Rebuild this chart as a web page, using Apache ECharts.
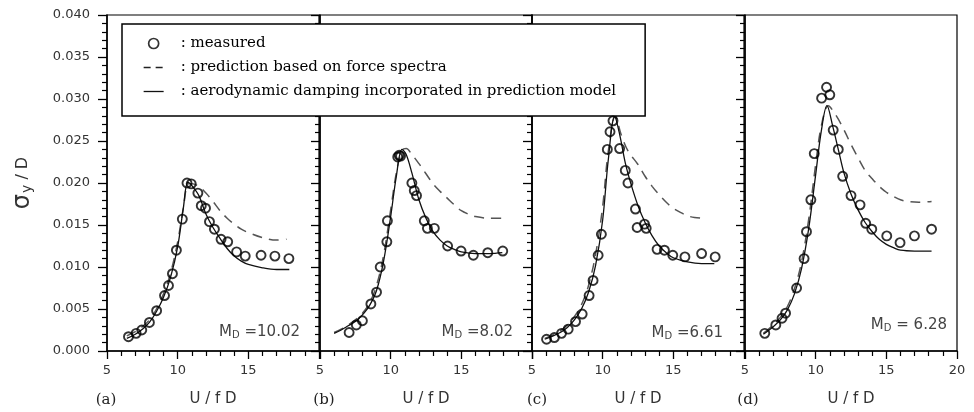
<!DOCTYPE html>
<html>
<head>
<meta charset="utf-8">
<title>Cross-wind response vs reduced velocity</title>
<script src="https://cdn.jsdelivr.net/npm/echarts@6/dist/echarts.min.js"></script>
<style>
  html, body { margin: 0; padding: 0; background: #fff; }
  #chart { width: 974px; height: 412px; }
</style>
</head>
<body>
<div id="chart"></div>
<script>
// ---- Panel (a), M_D = 10.02 ----
const aMeasU = [6.52, 7.06, 7.46, 8.00, 8.51, 9.07, 9.35, 9.63, 9.91, 10.33, 10.66, 10.96, 11.43, 11.67, 11.97, 12.25, 12.60, 13.07, 13.54, 14.17, 14.78, 15.90, 16.88, 17.87];
const aMeasS = [0.0017, 0.0021, 0.0025, 0.0034, 0.0048, 0.0066, 0.0078, 0.0092, 0.0120, 0.0157, 0.0200, 0.0199, 0.0188, 0.0173, 0.0170, 0.0154, 0.0145, 0.0133, 0.0130, 0.0118, 0.0113, 0.0114, 0.0113, 0.0110];
const aForceU = [6.4, 7.0, 7.5, 8.0, 8.5, 9.0, 9.5, 10.0, 10.4, 10.75, 11.0, 11.5, 12.0, 12.5, 13.0, 13.5, 14.0, 14.5, 15.0, 16.0, 17.0, 17.7];
const aForceS = [0.0018, 0.0023, 0.0029, 0.0037, 0.0050, 0.0068, 0.0093, 0.0130, 0.0170, 0.0199, 0.0199, 0.0196, 0.0188, 0.0178, 0.0167, 0.0158, 0.0151, 0.0145, 0.0141, 0.0135, 0.0132, 0.0133];
const aDampU = [6.4, 7.0, 7.5, 8.0, 8.5, 9.0, 9.5, 10.0, 10.4, 10.72, 11.0, 11.5, 12.0, 12.5, 13.0, 13.5, 14.0, 14.5, 15.0, 16.0, 17.0, 17.9];
const aDampS = [0.0015, 0.0020, 0.0026, 0.0034, 0.0047, 0.0064, 0.0088, 0.0124, 0.0170, 0.0201, 0.0197, 0.0185, 0.0163, 0.0147, 0.0134, 0.0122, 0.0113, 0.0107, 0.0103, 0.0099, 0.0097, 0.0097];

// ---- Panel (b), M_D = 8.02 ----
const bMeasU = [7.06, 7.57, 8.00, 8.60, 9.00, 9.26, 9.73, 9.77, 10.50, 10.60, 10.70, 11.50, 11.67, 11.83, 12.38, 12.60, 13.09, 14.03, 14.98, 15.85, 16.87, 17.93];
const bMeasS = [0.0022, 0.0031, 0.0036, 0.0056, 0.0070, 0.0100, 0.0130, 0.0155, 0.0231, 0.0233, 0.0232, 0.0200, 0.0191, 0.0185, 0.0155, 0.0146, 0.0146, 0.0125, 0.0119, 0.0114, 0.0117, 0.0119];
const bForceU = [6.0, 6.5, 7.0, 7.5, 8.0, 8.5, 9.0, 9.5, 10.0, 10.4, 10.8, 11.1, 11.5, 12.0, 12.5, 13.0, 13.5, 14.0, 14.5, 15.0, 15.5, 16.0, 17.0, 17.9];
const bForceS = [0.0022, 0.0026, 0.0031, 0.0037, 0.0045, 0.0057, 0.0078, 0.0114, 0.0168, 0.0212, 0.0239, 0.0241, 0.0234, 0.0223, 0.0211, 0.0199, 0.0190, 0.0182, 0.0174, 0.0167, 0.0163, 0.0160, 0.0158, 0.0158];
const bDampU = [6.0, 6.5, 7.0, 7.5, 8.0, 8.5, 9.0, 9.5, 10.0, 10.4, 10.8, 11.1, 11.5, 12.0, 12.5, 13.0, 13.5, 14.0, 14.5, 15.0, 16.0, 17.0, 17.9];
const bDampS = [0.0021, 0.0025, 0.0030, 0.0035, 0.0043, 0.0054, 0.0072, 0.0107, 0.0160, 0.0208, 0.0240, 0.0234, 0.0212, 0.0180, 0.0158, 0.0142, 0.0132, 0.0125, 0.0121, 0.0118, 0.0116, 0.0116, 0.0117];

// ---- Panel (c), M_D = 6.61 ----
const cMeasU = [6.03, 6.58, 7.09, 7.56, 8.08, 8.55, 9.04, 9.32, 9.68, 9.91, 10.33, 10.52, 10.73, 11.20, 11.60, 11.79, 12.32, 12.44, 12.96, 13.08, 13.85, 14.37, 14.96, 15.82, 17.00, 17.96];
const cMeasS = [0.0014, 0.0016, 0.0021, 0.0026, 0.0035, 0.0044, 0.0066, 0.0084, 0.0114, 0.0139, 0.0240, 0.0261, 0.0274, 0.0241, 0.0215, 0.0200, 0.0169, 0.0147, 0.0151, 0.0146, 0.0121, 0.0120, 0.0114, 0.0112, 0.0116, 0.0112];
const cForceU = [5.9, 6.5, 7.0, 7.5, 8.0, 8.5, 9.0, 9.5, 10.0, 10.4, 10.9, 11.3, 11.8, 12.5, 13.0, 13.5, 14.0, 14.5, 15.0, 15.5, 16.0, 16.5, 17.3];
const cForceS = [0.0015, 0.0019, 0.0024, 0.0031, 0.0041, 0.0055, 0.0078, 0.0115, 0.0172, 0.0238, 0.0280, 0.0258, 0.0238, 0.0222, 0.0208, 0.0196, 0.0186, 0.0177, 0.0170, 0.0165, 0.0161, 0.0159, 0.0158];
const cDampU = [5.9, 6.5, 7.0, 7.5, 8.0, 8.5, 9.0, 9.5, 10.0, 10.4, 10.85, 11.2, 11.6, 12.0, 12.5, 13.0, 13.5, 14.0, 14.5, 15.0, 16.0, 17.0, 17.9];
const cDampS = [0.0014, 0.0018, 0.0022, 0.0028, 0.0037, 0.0050, 0.0070, 0.0102, 0.0156, 0.0228, 0.0279, 0.0258, 0.0224, 0.0199, 0.0173, 0.0153, 0.0137, 0.0125, 0.0117, 0.0111, 0.0106, 0.0104, 0.0104];

// ---- Panel (d), M_D = 6.28 ----
const dMeasU = [6.40, 7.18, 7.62, 7.87, 8.65, 9.18, 9.35, 9.66, 9.90, 10.42, 10.77, 11.00, 11.24, 11.60, 11.91, 12.50, 13.14, 13.54, 13.97, 15.03, 15.97, 16.99, 18.20];
const dMeasS = [0.0021, 0.0031, 0.0039, 0.0045, 0.0075, 0.0110, 0.0142, 0.0180, 0.0235, 0.0301, 0.0314, 0.0305, 0.0263, 0.0240, 0.0208, 0.0185, 0.0174, 0.0152, 0.0145, 0.0137, 0.0129, 0.0137, 0.0145];
const dForceU = [6.3, 7.0, 7.5, 8.0, 8.5, 9.0, 9.5, 10.0, 10.4, 10.9, 11.3, 11.8, 12.5, 13.0, 13.5, 14.0, 14.5, 15.0, 15.5, 16.0, 16.5, 17.3, 18.2];
const dForceS = [0.0021, 0.0031, 0.0040, 0.0053, 0.0074, 0.0106, 0.0156, 0.0222, 0.0268, 0.0292, 0.0284, 0.0270, 0.0246, 0.0230, 0.0215, 0.0205, 0.0196, 0.0189, 0.0184, 0.0180, 0.0178, 0.0177, 0.0178];
const dDampU = [6.3, 7.0, 7.5, 8.0, 8.5, 9.0, 9.5, 10.0, 10.4, 10.8, 11.2, 11.6, 12.0, 12.5, 13.0, 13.5, 14.0, 14.5, 15.0, 15.5, 16.0, 17.0, 18.2];
const dDampS = [0.0020, 0.0029, 0.0037, 0.0049, 0.0068, 0.0098, 0.0145, 0.0210, 0.0262, 0.0292, 0.0268, 0.0240, 0.0212, 0.0187, 0.0168, 0.0153, 0.0142, 0.0133, 0.0127, 0.0123, 0.0120, 0.0119, 0.0119];

// Axis ticks and labels
const xTicks = [5, 10, 15, 20];
const yTicks = [0, 0.005, 0.010, 0.015, 0.020, 0.025, 0.030, 0.035, 0.040];
const panelTags = ['(a)', '(b)', '(c)', '(d)'];
const massLabels = ['=10.02', '=8.02', '=6.61', '= 6.28'];
const seriesNames = [
  'measured',
  'prediction based on force spectra',
  'aerodynamic damping incorporated in prediction model'
];

const panels = [
  [aMeasU, aMeasS, aForceU, aForceS, aDampU, aDampS],
  [bMeasU, bMeasS, bForceU, bForceS, bDampU, bDampS],
  [cMeasU, cMeasS, cForceU, cForceS, cDampU, cDampS],
  [dMeasU, dMeasS, dForceU, dForceS, dDampU, dDampS]
];

const zip = (xs, ys) => xs.map((x, i) => [x, ys[i]]);

// Layout of the four side-by-side panels (pixels)
const panelLeft = [107, 320, 532, 745];
const panelWidth = 212;
const plotTop = 15;
const plotHeight = 336;

const SANS = 'DejaVu Sans';
const SERIF = 'DejaVu Serif';
const DASH_COLOR = '#555';
const SOLID_COLOR = '#111';
const HIDDEN = 'rgba(0,0,0,0)';

const grids = panelLeft.map(l => ({
  left: l, top: plotTop, width: panelWidth, height: plotHeight,
  show: true, borderColor: '#000', borderWidth: 1.2, backgroundColor: 'transparent'
}));

const xAxes = panelLeft.map((l, i) => ({
  type: 'value', gridIndex: i,
  min: xTicks[0], max: xTicks[xTicks.length - 1], interval: 5,
  name: 'U / f D', nameLocation: 'middle', nameGap: 41,
  nameTextStyle: { fontFamily: SANS, fontSize: 15, color: '#333' },
  axisLine: { show: true, lineStyle: { color: '#000', width: 1.5 } },
  axisTick: { show: true, length: 8, lineStyle: { color: '#000', width: 1.3 } },
  minorTick: { show: true, splitNumber: 5, length: 5, lineStyle: { color: '#000', width: 1.2 } },
  splitLine: { show: false },
  minorSplitLine: { show: false },
  axisLabel: {
    fontFamily: SANS, fontSize: 13, color: '#333', margin: 13,
    showMaxLabel: i === 3,
    formatter: v => String(v)
  }
}));

const yAxes = panelLeft.map((l, i) => ({
  type: 'value', gridIndex: i,
  min: yTicks[0], max: yTicks[yTicks.length - 1], interval: 0.005,
  name: i === 0 ? '{s|σ}{sub|y}{n| / D}' : '',
  nameLocation: 'middle', nameRotate: 90, nameGap: 72,
  nameTextStyle: {
    color: '#333',
    rich: {
      s: { fontFamily: SANS, fontSize: 24, color: '#333' },
      sub: { fontFamily: SANS, fontSize: 14, color: '#333', padding: [8, 0, 0, 1] },
      n: { fontFamily: SANS, fontSize: 16, color: '#333' }
    }
  },
  axisLine: { show: true, lineStyle: { color: '#000', width: 1.5 } },
  axisTick: { show: true, length: 9, lineStyle: { color: '#000', width: 1.3 } },
  minorTick: { show: true, splitNumber: 5, length: 5, lineStyle: { color: '#000', width: 1.2 } },
  splitLine: { show: false },
  minorSplitLine: { show: false },
  axisLabel: {
    show: i === 0, fontFamily: SANS, fontSize: 13, color: '#333', margin: 17,
    formatter: v => v.toFixed(3)
  }
}));

const series = [];
panels.forEach((p, i) => {
  series.push({
    name: seriesNames[1], type: 'line', xAxisIndex: i, yAxisIndex: i,
    data: zip(p[2], p[3]), smooth: 0.35, symbol: 'none', showSymbol: false,
    color: DASH_COLOR,
    lineStyle: { color: DASH_COLOR, width: 1.5, type: [10, 7] }, z: 3
  });
  series.push({
    name: seriesNames[2], type: 'line', xAxisIndex: i, yAxisIndex: i,
    data: zip(p[4], p[5]), smooth: 0.35, symbol: 'none', showSymbol: false,
    color: SOLID_COLOR,
    lineStyle: { color: SOLID_COLOR, width: 1.3, type: 'solid' }, z: 3
  });
  series.push({
    name: seriesNames[0], type: 'scatter', xAxisIndex: i, yAxisIndex: i,
    data: zip(p[0], p[1]), symbol: 'circle', symbolSize: 9,
    itemStyle: { color: HIDDEN, borderColor: '#000', borderWidth: 1.9 }, z: 4
  });
});

// Panel letters and mass-damping annotations
const tagX = [106, 324, 537, 748];
const massRight = [300, 513, 723, 947];
const massY = [332, 332, 333, 325];
const graphics = [];
panelTags.forEach((t, i) => {
  graphics.push({
    type: 'text', x: tagX[i], y: 400,
    style: { text: t, font: '15px "' + SERIF + '"', fill: '#222', align: 'center', verticalAlign: 'middle' }
  });
  graphics.push({
    type: 'text', x: massRight[i], y: massY[i],
    style: {
      text: '{m|M}{d|D}{m| ' + massLabels[i] + '}',
      align: 'right', verticalAlign: 'middle',
      rich: {
        m: { fontFamily: SANS, fontSize: 15, fill: '#444', color: '#444' },
        d: { fontFamily: SANS, fontSize: 10, fill: '#444', color: '#444', padding: [7, 0, 0, 0] }
      }
    }
  });
});

const chart = echarts.init(document.getElementById('chart'), null, { renderer: 'canvas' });
chart.setOption({
  animation: false,
  backgroundColor: '#fff',
  grid: grids,
  xAxis: xAxes,
  yAxis: yAxes,
  legend: {
    orient: 'vertical', left: 122, top: 24,
    padding: [12, 29, 17, 21], itemGap: 9,
    itemWidth: 20, itemHeight: 10,
    backgroundColor: '#fff', borderColor: '#000', borderWidth: 1.5,
    textStyle: { fontFamily: SERIF, fontSize: 15, color: '#000', padding: [0, 0, 0, 12] },
    formatter: name => ': ' + name,
    selectedMode: false,
    data: [
      { name: seriesNames[0], icon: 'circle',
        itemStyle: { color: HIDDEN, borderColor: '#000', borderWidth: 1.7 } },
      { name: seriesNames[1],
        itemStyle: { color: HIDDEN, borderColor: HIDDEN, borderWidth: 0 },
        lineStyle: { type: [7, 5], color: '#222', width: 1.3 } },
      { name: seriesNames[2],
        itemStyle: { color: HIDDEN, borderColor: HIDDEN, borderWidth: 0 },
        lineStyle: { type: 'solid', color: '#111', width: 1.3 } }
    ]
  },
  series: series,
  graphic: graphics
});
</script>
</body>
</html>
